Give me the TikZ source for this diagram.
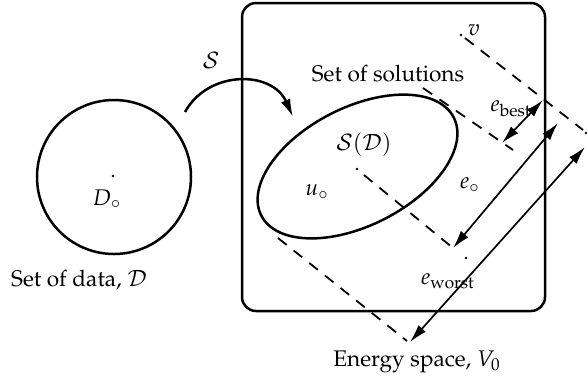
\documentclass[tikz,border=0pt]{standalone}
\usepackage[T1]{fontenc}
\usepackage{mathpazo}
\usetikzlibrary{arrows.meta,shapes.geometric}
\begin{document}
\begin{tikzpicture}[x=0.5pt,y=-0.5pt,
  font=\fontsize{11.3}{13.5}\selectfont,
  thickline/.style={line width=1.25pt},
  dashline/.style={line width=0.9pt, dash pattern=on 5.5pt off 4.5pt},
  dblarrow/.style={line width=0.85pt, {Latex[length=9pt,width=5pt]}-{Latex[length=9pt,width=5pt]}},
  dotmark/.style={circle, fill, inner sep=0pt, minimum size=1.4pt},
  lbl/.style={inner sep=0pt}]
\useasboundingbox (0,0) rectangle (587,382);
% frame for the energy space
\draw[thickline, rounded corners=7pt] (242,3) rectangle (545,311);
% set of data
\node[draw, circle, thickline, minimum size=77pt, inner sep=0pt] (data) at (114,177) {};
\node[dotmark] (d0) at (113,176) {};
\node[lbl] (d0lbl) at (107,199) {$D_\circ$};
\node[lbl] (datalbl) at (79,280) {Set of data, $\mathcal{D}$};
% set of solutions
\node[draw, ellipse, thickline, minimum width=108pt, minimum height=59pt, inner sep=0pt, rotate=27] (sol) at (357.5,166.5) {};
\node[dotmark] (u0) at (357,169) {};
\node[lbl] (sollbl) at (388,74) {Set of solutions};
\node[lbl] (sdlbl) at (364,145) {$\mathcal{S}(\mathcal{D})$};
\node[lbl] (u0lbl) at (317,192) {$u_\circ$};
% map S
\coordinate (s0) at (185,112);
\coordinate (s1) at (293,117);
\draw[thickline, -{Latex[length=9pt,width=5pt]}] (s0) .. controls (208,70) and (272,70) .. (s1);
\node[lbl] (slbl) at (211,60) {$\mathcal{S}$};
% point v and dashed lines
\node[dotmark] (vdot) at (461,35) {};
\node[lbl] (vlbl) at (474,30) {$v$};
\coordinate (a1) at (465,38);
\coordinate (a2) at (583,130);
\coordinate (b1) at (423,88);
\coordinate (b2) at (513,150);
\coordinate (c1) at (364,175);
\coordinate (c2) at (453,248);
\coordinate (f1) at (278,238);
\coordinate (f2) at (407,341);
\node[dotmark] (enddot1) at (586,133) {};
\node[dotmark] (enddot2) at (466,258) {};
\draw[dashline] (a1) -- (a2);
\draw[dashline] (b1) -- (b2);
\draw[dashline] (c1) -- (c2);
\draw[dashline] (f1) -- (f2);
% energy arrows
\coordinate (p1) at (502,143);
\coordinate (q1) at (543,100);
\coordinate (p2) at (453,248);
\coordinate (q2) at (558,123);
\coordinate (p3) at (410,342);
\coordinate (q3) at (585,147);
\draw[dblarrow] (p1) -- (q1);
\draw[dblarrow] (p2) -- (q2);
\draw[dblarrow] (p3) -- (q3);
\node[lbl] (ebest) at (511,109) {$e_{\mathrm{best}}$};
\node[lbl] (e0) at (470,185) {$e_\circ$};
\node[lbl] (eworst) at (448,281) {$e_{\mathrm{worst}}$};
\node[lbl] (vlabel) at (417,362) {Energy space, $V_0$};
\end{tikzpicture}
\end{document}
